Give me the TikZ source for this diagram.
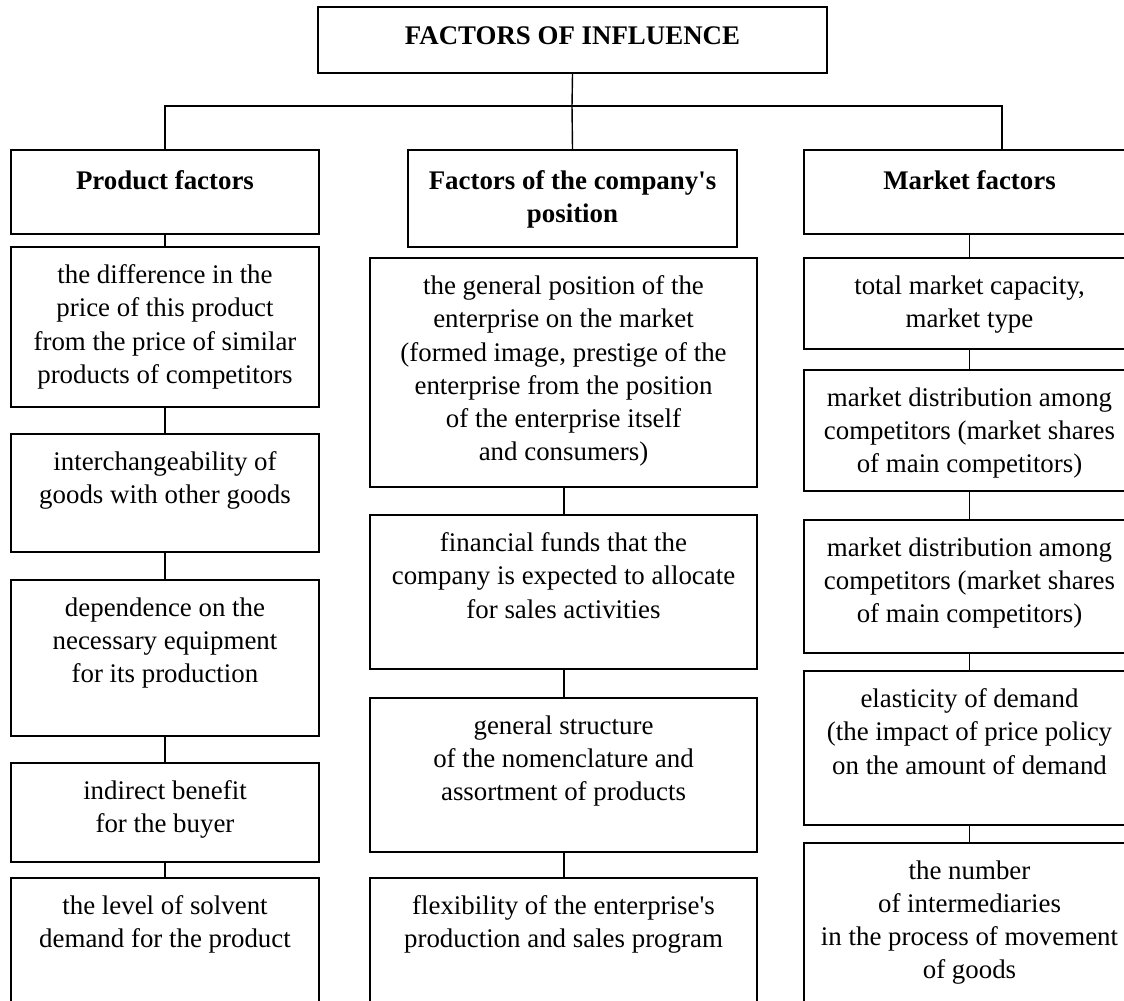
\documentclass[tikz,border=0pt]{standalone}
\usepackage{fontspec}
\setmainfont{Liberation Serif}
\usetikzlibrary{positioning,fit}
\tikzset{%
  fbox/.style={draw,line width=1.1pt,inner sep=0pt},
  ftext/.style={inner sep=0pt,align=center,anchor=north,
    font=\fontsize{15.3}{18.9}\selectfont,execute at begin node=\strut},
  fhead/.style={ftext,font=\bfseries\fontsize{15.3}{18.9}\selectfont},
  link/.style={line width=0.8pt}
}

\begin{document}
\begin{tikzpicture}[x=0.02cm,y=-0.02cm]
  \useasboundingbox (0,0) rectangle (1124,1000);
  \clip (0,0) rectangle (1124,1000);
  %
  \node[fbox,fit={(318,7) (827,73)}] (top) {};
  \node[fhead,below=8.3pt of top.north] (topt) {FACTORS OF INFLUENCE};
  %
  \node[fbox,fit={(11,150) (319,234)}] (pf) {};
  \node[fbox,fit={(408,150) (737,247)}] (cp) {};
  \node[fbox,fit={(804,150) (1135,234)}] (mf) {};
  \node[fhead,below=9.4pt of pf.north] (pft) {Product factors};
  \node[fhead,below=12pt of cp.north] (cpt) {Factors of the company\textquotesingle s\\position};
  \node[fhead,below=9.4pt of mf.north] (mft) {Market factors};
  %%% Product factors
  \node[fbox,fit={(11,247) (319,407)}] (l1) {};
  \node[fbox,fit={(11,434) (319,552)}] (l2) {};
  \node[fbox,fit={(11,580) (319,736)}] (l3) {};
  \node[fbox,fit={(11,763) (319,862)}] (l4) {};
  \node[fbox,fit={(11,878) (319,1010)}] (l5) {};
  \node[ftext,below=10.4pt of l1.north] (l1t) {the difference in the\\price of this product\\from the price of similar\\products of competitors};
  \node[ftext,below=10.4pt of l2.north] (l2t) {interchangeability of\\goods with other goods};
  \node[ftext,below=10.4pt of l3.north] (l3t) {dependence on the\\necessary equipment\\for its production};
  \node[ftext,below=10.4pt of l4.north] (l4t) {indirect benefit\\for the buyer};
  \node[ftext,below=10.4pt of l5.north] (l5t) {the level of solvent\\demand for the product};
  %%% Company's position
  \node[fbox,fit={(370,258) (757,487)}] (m1) {};
  \node[fbox,fit={(370,515) (757,669)}] (m2) {};
  \node[fbox,fit={(370,698) (757,852)}] (m3) {};
  \node[fbox,fit={(370,878) (757,1010)}] (m4) {};
  \node[ftext,below=10.4pt of m1.north] (m1t) {the general position of the\\enterprise on the market\\(formed image, prestige of the\\enterprise from the position\\of the enterprise itself\\and consumers)};
  \node[ftext,below=10.4pt of m2.north] (m2t) {financial funds that the\\company is expected to allocate\\for sales activities};
  \node[ftext,below=10.4pt of m3.north] (m3t) {general structure\\of the nomenclature and\\assortment of products};
  \node[ftext,below=10.4pt of m4.north] (m4t) {flexibility of the enterprise\textquotesingle s\\production and sales program};
  %%% Market factors
  \node[fbox,fit={(804,258) (1135,349)}] (r1) {};
  \node[fbox,fit={(804,370) (1135,491)}] (r2) {};
  \node[fbox,fit={(804,520) (1135,653)}] (r3) {};
  \node[fbox,fit={(804,671) (1135,825)}] (r4) {};
  \node[fbox,fit={(804,843) (1135,1010)}] (r5) {};
  \node[ftext,below=10.4pt of r1.north] (r1t) {total market capacity,\\market type};
  \node[ftext,below=10.4pt of r2.north] (r2t) {market distribution among\\competitors (market shares\\of main competitors)};
  \node[ftext,below=10.4pt of r3.north] (r3t) {market distribution among\\competitors (market shares\\of main competitors)};
  \node[ftext,below=10.4pt of r4.north] (r4t) {elasticity of demand\\(the impact of price policy\\on the amount of demand};
  \node[ftext,below=10.4pt of r5.north] (r5t) {the number\\of intermediaries\\in the process of movement\\of goods};
  %% Links
  \coordinate (bus) at (572,106);
  \coordinate (busR) at (1002,106);
  \coordinate (maxis) at (564,0);
  \draw[link] (top.south) -- (bus);
  \draw[link] (pf.north) |- (busR) -- (busR |- mf.north);
  \draw[link] (bus) -- (cp.north);
  %
  \draw[link] (pf.south) -- (l1.north);
  \draw[link] (l1.south) -- (l2.north);
  \draw[link] (l2.south) -- (l3.north);
  \draw[link] (l3.south) -- (l4.north);
  \draw[link] (l4.south) -- (l5.north);
  %
  \draw[link] (m1.south -| maxis) -- (m2.north -| maxis);
  \draw[link] (m2.south -| maxis) -- (m3.north -| maxis);
  \draw[link] (m3.south -| maxis) -- (m4.north -| maxis);
  %
  \draw[link] (mf.south) -- (r1.north);
  \draw[link] (r1.south) -- (r2.north);
  \draw[link] (r2.south) -- (r3.north);
  \draw[link] (r3.south) -- (r4.north);
  \draw[link] (r4.south) -- (r5.north);
  %%
\end{tikzpicture}
\end{document}
